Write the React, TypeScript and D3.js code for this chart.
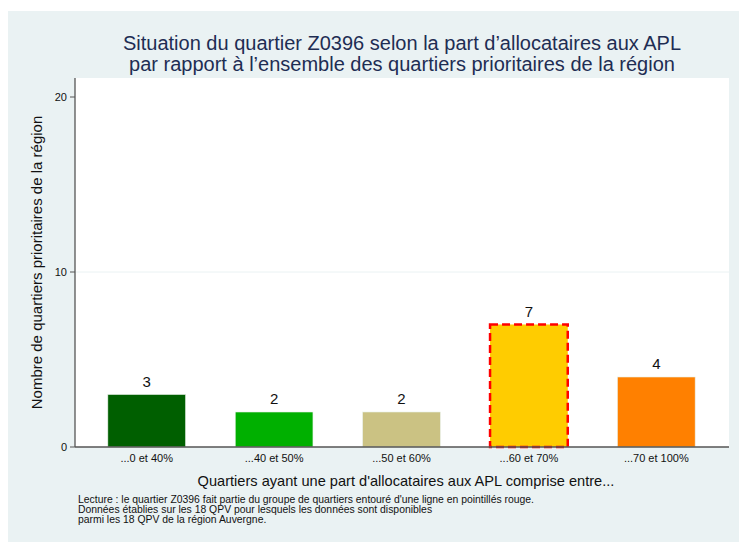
import React from "react";
import * as d3 from "d3";

const categories = ["...0 et 40%", "...40 et 50%", "...50 et 60%", "...60 et 70%", "...70 et 100%"];
const values = [3, 2, 2, 7, 4];
const colors = ["#005f00", "#00b000", "#cbc283", "#ffcc00", "#ff8000"];
const highlighted = [false, false, false, true, false];
const yTicks = [0, 10, 20];
const titleLines = [
  "Situation du quartier Z0396 selon la part d’allocataires aux APL",
  "par rapport à l’ensemble des quartiers prioritaires de la région",
];
const notes = [
  "Lecture : le quartier Z0396 fait partie du groupe de quartiers entouré d'une ligne en pointillés rouge.",
  "Données établies sur les 18 QPV pour lesquels les données sont disponibles",
  "parmi les 18 QPV de la région Auvergne.",
];

const W = 739;
const H = 542;
const FONT = "'Liberation Sans', Arial, sans-serif";

export default function App() {
  const left = 75, right = 729, top = 78, bottom = 447;
  const y = d3.scaleLinear().domain([0, 20]).range([bottom, 97]);
  const x = d3.scaleBand<string>().domain(categories).range([83, 720]).paddingInner(0.39).paddingOuter(0.195);
  const cx = (left + right) / 2;
  return (
    <svg width={W} height={H} style={{ position: "absolute", left: 0, top: 0, display: "block" }}>
      <rect x={8} y={11} width={W - 8} height={H - 11} fill="#eaf2f3" />
      <rect x={left} y={top} width={right - left} height={bottom - top} fill="#ffffff" />
      {yTicks.filter((t) => t > 0 && t < 20).map((t) => (
        <line key={"g" + t} x1={left} x2={right} y1={y(t)} y2={y(t)} stroke="#eaf2f3" strokeWidth={1} />
      ))}
      {categories.map((c, i) => {
        const bx = x(c)!;
        const bw = x.bandwidth();
        const by = y(values[i]);
        const bh = bottom - by;
        return (
          <g key={c}>
            <rect x={bx} y={by} width={bw} height={bh} fill={colors[i]} stroke={highlighted[i] ? "none" : "#e8f0e8"} strokeWidth={0.6} />
            {highlighted[i] && (
              <rect x={bx} y={by} width={bw} height={bh} fill="none" stroke="#ff0000" strokeWidth={2.5} strokeDasharray="8,4" />
            )}
            <text x={bx + bw / 2} y={by - 8} textAnchor="middle" fontSize={15} fontFamily={FONT} fill="#111">
              {values[i]}
            </text>
            <text x={bx + bw / 2} y={bottom + 15} textAnchor="middle" fontSize={11} fontFamily={FONT} fill="#111">
              {c}
            </text>
          </g>
        );
      })}
      <line x1={left} x2={right} y1={bottom} y2={bottom} stroke="#555" strokeWidth={1.3} />
      <line x1={left} x2={left} y1={top} y2={bottom} stroke="#555" strokeWidth={1.3} />
      {yTicks.map((t) => (
        <g key={"t" + t}>
          <line x1={left - 5} x2={left} y1={y(t)} y2={y(t)} stroke="#555" strokeWidth={1} />
          <text x={left - 8} y={y(t) + 4} textAnchor="end" fontSize={11} fontFamily={FONT} fill="#111">
            {t}
          </text>
        </g>
      ))}
      {titleLines.map((l, i) => (
        <text key={l} x={cx} y={50 + i * 20.5} textAnchor="middle" fontSize={20} fontFamily={FONT} fill="#1e2d53">
          {l}
        </text>
      ))}
      <text
        transform={`translate(42,${(top + bottom) / 2}) rotate(-90)`}
        textAnchor="middle"
        fontSize={15}
        fontFamily={FONT}
        fill="#111"
      >
        Nombre de quartiers prioritaires de la région
      </text>
      <text x={cx + 4} y={486} textAnchor="middle" fontSize={14.6} fontFamily={FONT} fill="#111">
        Quartiers ayant une part d'allocataires aux APL comprise entre...
      </text>
      {notes.map((n, i) => (
        <text key={i} x={78} y={503 + i * 9.8} fontSize={10.4} fontFamily={FONT} fill="#111">
          {n}
        </text>
      ))}
    </svg>
  );
}
